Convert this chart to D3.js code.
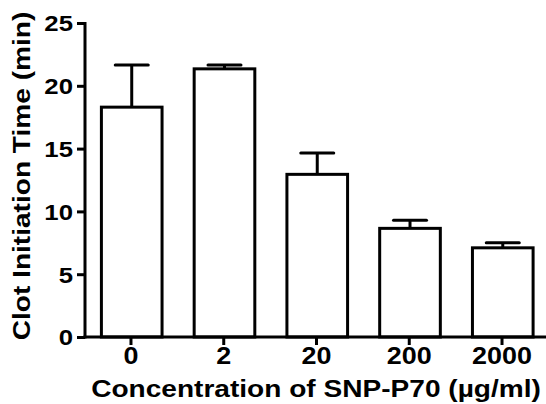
<!DOCTYPE html>
<html><head><meta charset="utf-8">
<script src="https://cdn.jsdelivr.net/npm/d3@7"></script>
<style>body{margin:0;background:#fff}svg{display:block}text{font-family:"Liberation Sans",Arial,sans-serif;font-weight:bold;fill:#000}</style>
</head><body>
<script>
const categories = ["0", "2", "20", "200", "2000"];
const means = [18.3, 21.35, 12.95, 8.65, 7.1];
const errors = [3.35, 0.3, 1.7, 0.65, 0.4];
const yTicks = [0, 5, 10, 15, 20, 25];
const xTitle = "Concentration of SNP-P70 (µg/ml)";
const yTitle = "Clot Initiation Time (min)";

const W = 546, H = 404;
const sx = 1.17; // horizontal stretch of glyphs
const svg = d3.select("body").append("svg").attr("width", W).attr("height", H);
const x = d3.scaleBand().domain(categories).range([84.6, 548.4]).paddingInner(0.33).paddingOuter(0.165);
const y = d3.scaleLinear().domain([0, 25]).range([337, 23]);
const sw = 3;

// bars
svg.selectAll("rect.bar").data(categories).join("rect")
  .attr("x", d => x(d) + 1.5).attr("y", (d,i) => y(means[i]))
  .attr("width", x.bandwidth() - 1.5).attr("height", (d,i) => y(0) - y(means[i]))
  .attr("fill", "#fff").attr("stroke", "#000").attr("stroke-width", sw);

// error bars
const capW = 33;
const cx = d => x(d) + x.bandwidth()/2 + 0.75;
const eg = svg.selectAll("g.err").data(categories).join("g");
eg.append("line")
  .attr("x1", cx).attr("x2", cx)
  .attr("y1", (d,i) => y(means[i])).attr("y2", (d,i) => y(means[i] + errors[i]))
  .attr("stroke", "#000").attr("stroke-width", sw);
eg.append("line")
  .attr("x1", d => cx(d) - capW/2).attr("x2", d => cx(d) + capW/2)
  .attr("y1", (d,i) => y(means[i] + errors[i])).attr("y2", (d,i) => y(means[i] + errors[i]))
  .attr("stroke", "#000").attr("stroke-width", sw).attr("stroke-linecap", "round");

// y axis
const yAxis = d3.axisLeft(y).tickValues(yTicks).tickSize(8).tickPadding(4).tickSizeOuter(0);
const gy = svg.append("g").attr("transform", "translate(85,0)").call(yAxis);
gy.select(".domain").attr("stroke-width", sw).attr("d", `M0,${y(25)-1}V${y(0)+1.5}`);
gy.selectAll(".tick line").attr("stroke-width", sw);
gy.selectAll(".tick text").style("font-size", "22px").attr("dy", "0.36em")
  .attr("x", -12 / sx).attr("transform", `scale(${sx},1)`);

// x axis
const xAxis = d3.axisBottom(x).tickSize(8).tickPadding(3).tickSizeOuter(0);
const gx = svg.append("g").attr("transform", `translate(0,${y(0)})`).call(xAxis);
gx.select(".domain").attr("stroke-width", sw).attr("d", `M83.5,0H546`);
gx.selectAll(".tick line").attr("stroke-width", sw);
gx.selectAll(".tick text").style("font-size", "23px").attr("transform", `scale(${sx},1)`);

// titles
svg.append("text").attr("transform", `translate(316,397) scale(${sx},1)`).attr("text-anchor", "middle")
  .style("font-size", "24px").text(xTitle);
svg.append("text").attr("transform", `translate(30,176) rotate(-90) scale(${sx},1)`).attr("text-anchor", "middle")
  .style("font-size", "24px").text(yTitle);
</script>
</body></html>
